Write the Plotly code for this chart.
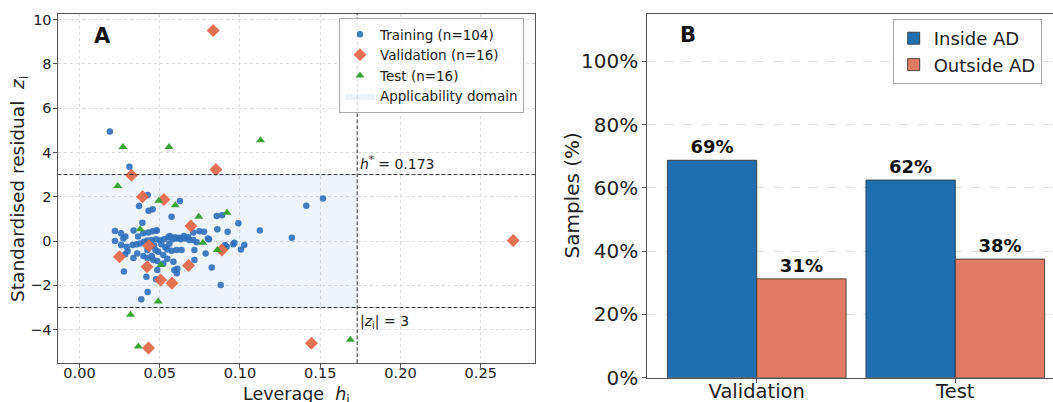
import plotly.graph_objects as go
from plotly.subplots import make_subplots

# ---------------- Panel A data ----------------
train_h = [0.0189, 0.0311, 0.0425, 0.0371, 0.0430, 0.0456, 0.0626, 0.0574, 0.0855, 0.0888,
           0.0990, 0.0392, 0.1124, 0.0221, 0.0337, 0.0859, 0.0923, 0.1323, 0.1413, 0.1517,
           0.0221, 0.0907, 0.0965, 0.1027, 0.1006, 0.0716, 0.0786, 0.0716, 0.0591, 0.0606,
           0.0824, 0.0880, 0.0277, 0.0417, 0.0425, 0.0385, 0.0336, 0.0480, 0.0800, 0.0286,
           0.0429, 0.0456, 0.0481, 0.0273, 0.0564, 0.0595, 0.0622, 0.0651, 0.0678, 0.0709,
           0.0747, 0.0776, 0.0807, 0.0259, 0.0294, 0.0331, 0.0356, 0.0377, 0.0402, 0.0423,
           0.0450, 0.0477, 0.0502, 0.0527, 0.0553, 0.0580, 0.0605, 0.0630, 0.0657, 0.0684,
           0.0709, 0.0730, 0.0360, 0.0398, 0.0423, 0.0450, 0.0473, 0.0491, 0.0522, 0.0547,
           0.0574, 0.0605, 0.0636, 0.0917, 0.0958, 0.0423, 0.0460, 0.0485, 0.0522, 0.0547,
           0.0585, 0.0610, 0.0485, 0.0477, 0.0259, 0.0300, 0.0285, 0.0365, 0.0398, 0.0440,
           0.0465, 0.0510, 0.0535, 0.0560]
train_z = [4.95, 3.35, 2.08, 1.58, 1.37, 1.43, 1.81, 1.10, 1.13, 1.16,
           0.80, 0.83, 0.47, 0.45, 0.48, 0.53, 0.42, 0.15, 1.59, 1.92,
           0.00, -0.18, -0.08, -0.18, -0.38, -0.40, -0.56, -0.86, -1.31, -1.46,
           -1.19, -1.99, -1.38, -1.61, -2.30, -2.63, -0.77, 0.47, 0.12, 0.20,
           0.38, 0.44, 0.47, 0.12, 0.23, 0.17, 0.15, 0.23, 0.17, 0.39,
           0.44, 0.42, 0.08, -0.18, -0.26, -0.18, -0.14, -0.11, -0.03, 0.02,
           0.05, 0.08, 0.02, 0.08, 0.17, 0.08, 0.12, 0.08, 0.12, 0.05,
           0.05, -0.05, -0.56, -0.68, -0.41, -0.68, -0.41, -0.48, -0.63, -0.38,
           -0.44, -0.41, -0.41, -0.26, -0.14, -0.77, -0.86, -0.90, -1.01, -0.80,
           -0.93, -1.25, -1.31, -1.73, 0.35, -0.45, -0.60, 0.20, 0.35, -0.25,
           -0.20, -0.15, -0.28, -0.12]

val_h = [0.0833, 0.0850, 0.0324, 0.0393, 0.0526, 0.0694, 0.0432, 0.0249,
         0.0421, 0.0679, 0.0887, 0.0505, 0.0576, 0.0430, 0.1445, 0.2702]
val_z = [9.50, 3.23, 2.97, 2.00, 1.88, 0.68, -0.21, -0.71,
         -1.16, -1.11, -0.41, -1.76, -1.91, -4.83, -4.61, 0.02]

test_h = [0.0271, 0.0558, 0.1128, 0.0238, 0.0494, 0.0597, 0.0919, 0.0743,
          0.0378, 0.0769, 0.0859, 0.0507, 0.0490, 0.0318, 0.0367, 0.1688]
test_z = [4.25, 4.25, 4.55, 2.48, 1.82, 1.62, 1.28, 1.10,
          0.53, -0.08, -0.41, -1.08, -2.73, -3.33, -4.76, -4.46]

H_STAR = 0.173
Z_LIM = 3

# ---------------- Panel B data ----------------
sets = ["Validation", "Test"]
inside_pct = [68.75, 62.5]
outside_pct = [31.25, 37.5]
pct_ticks = [0, 20, 40, 60, 80, 100]

# ---------------- styling ----------------
FONT = "DejaVu Sans"
TXT = "#222222"
BLUE_PT = "#2f70bd"
ORANGE_PT = "#e4694c"
GREEN_PT = "#33a02c"
BAR_BLUE = "#1f6eb0"
BAR_ORANGE = "#e27b66"

fig = make_subplots(rows=1, cols=2)

# Applicability domain rectangle (drawn first, listed last)
fig.add_trace(go.Scatter(
    x=[0, H_STAR, H_STAR, 0, 0], y=[-Z_LIM, -Z_LIM, Z_LIM, Z_LIM, -Z_LIM],
    mode="lines", fill="toself", fillcolor="rgba(70,130,210,0.09)",
    line=dict(width=0), name="Applicability domain", legendrank=4,
    legend="legend", hoverinfo="skip"), row=1, col=1)

fig.add_trace(go.Scatter(
    x=train_h, y=train_z, mode="markers", name="Training (n=104)",
    marker=dict(symbol="circle", size=6.5, color=BLUE_PT, opacity=0.9),
    legendrank=1, legend="legend"), row=1, col=1)
fig.add_trace(go.Scatter(
    x=val_h, y=val_z, mode="markers", name="Validation (n=16)",
    marker=dict(symbol="diamond", size=10, color=ORANGE_PT, opacity=0.95),
    legendrank=2, legend="legend"), row=1, col=1)
fig.add_trace(go.Scatter(
    x=test_h, y=test_z, mode="markers", name="Test (n=16)",
    marker=dict(symbol="triangle-up", size=8, color=GREEN_PT, opacity=0.95),
    legendrank=3, legend="legend"), row=1, col=1)

# Threshold lines
line_style = dict(color="#333333", width=1, dash="4px,2px")
fig.add_shape(type="line", xref="x", yref="y domain", x0=H_STAR, x1=H_STAR, y0=0, y1=1, line=line_style)
fig.add_shape(type="line", xref="x domain", yref="y", x0=0, x1=1, y0=Z_LIM, y1=Z_LIM, line=line_style)
fig.add_shape(type="line", xref="x domain", yref="y", x0=0, x1=1, y0=-Z_LIM, y1=-Z_LIM, line=line_style)

# Bars
fig.add_trace(go.Bar(
    x=sets, y=inside_pct, name="Inside AD", legend="legend2",
    marker=dict(color=BAR_BLUE, line=dict(color="rgba(50,50,50,0.85)", width=1)),
    text=[f"{v:.0f}%" for v in inside_pct], textposition="outside",
    textfont=dict(family=FONT, size=18, color="#111", weight="bold"),
    cliponaxis=False), row=1, col=2)
fig.add_trace(go.Bar(
    x=sets, y=outside_pct, name="Outside AD", legend="legend2",
    marker=dict(color=BAR_ORANGE, line=dict(color="rgba(50,50,50,0.85)", width=1)),
    text=[f"{v:.0f}%" for v in outside_pct], textposition="outside",
    textfont=dict(family=FONT, size=18, color="#111", weight="bold"),
    cliponaxis=False), row=1, col=2)

W, H = 1053, 402
def px_x(p):
    return p / W
def px_y(p):
    return 1 - p / H

axis_common = dict(showline=True, linecolor="#555555", linewidth=1, ticks="outside",
                   ticklen=4, tickcolor="#555555", zeroline=False)

fig.update_layout(
    width=W, height=H, autosize=False,
    margin=dict(l=0, r=0, t=0, b=0, autoexpand=False),
    paper_bgcolor="white", plot_bgcolor="white",
    font=dict(family=FONT, color=TXT),
    barmode="group", bargap=0.1, bargroupgap=0,
    xaxis=dict(domain=[px_x(57.5), px_x(535)], range=[-0.0137, 0.2838],
               tickvals=[0, 0.05, 0.10, 0.15, 0.20, 0.25], tickformat=".2f",
               mirror=True, showgrid=True, gridcolor="#dddddd", griddash="dot",
               tickfont=dict(size=14.5), ticklabelstandoff=-8, **axis_common),
    yaxis=dict(domain=[px_y(363.3), px_y(14)], range=[-5.52, 10.25],
               tickvals=[-4, -2, 0, 2, 4, 6, 8, 10],
               mirror=True, showgrid=True, gridcolor="#dddddd", griddash="dot",
               tickfont=dict(size=14.5), ticklabelstandoff=-2, **axis_common),
    xaxis2=dict(domain=[px_x(647.3), 1.0], range=[-0.551, 1.492],
                mirror=True, showgrid=False, tickfont=dict(size=19.5),
                ticklabelstandoff=-8, **axis_common),
    yaxis2=dict(domain=[px_y(377.7), px_y(14)], range=[0, 115],
                tickmode="array", tickvals=pct_ticks,
                ticktext=[f"{v}%" for v in pct_ticks],
                mirror=False, showgrid=True, gridcolor="#e3e3e3", griddash="dash",
                tickfont=dict(size=20), **axis_common),
    legend=dict(x=px_x(339), y=px_y(18), xanchor="left", yanchor="top",
                font=dict(size=13.5, color=TXT), bgcolor="rgba(255,255,255,0.85)",
                bordercolor="#aaaaaa", borderwidth=1, tracegroupgap=0),
    legend2=dict(x=px_x(892.7), y=px_y(19), xanchor="left", yanchor="top",
                 font=dict(size=18, color=TXT), bgcolor="rgba(255,255,255,0.85)",
                 bordercolor="#aaaaaa", borderwidth=1),
    showlegend=True,
)

ann = [
    dict(text="<b>A</b>", x=px_x(92), y=px_y(36), xref="paper", yref="paper",
         xanchor="left", yanchor="middle", showarrow=False, font=dict(size=21, color="#111")),
    dict(text="<b>B</b>", x=px_x(677.5), y=px_y(35), xref="paper", yref="paper",
         xanchor="left", yanchor="middle", showarrow=False, font=dict(size=21, color="#111")),
    dict(text="<i>h</i><sup>*</sup> = 0.173", x=H_STAR, y=Z_LIM, xref="x", yref="y",
         xanchor="left", yanchor="bottom", xshift=1, yshift=1, showarrow=False,
         font=dict(size=14, color=TXT)),
    dict(text="|<i>z</i><sub>i</sub>| = 3", x=H_STAR, y=-Z_LIM, xref="x", yref="y",
         xanchor="left", yanchor="top", xshift=1, yshift=-4, showarrow=False,
         font=dict(size=14, color=TXT)),
    dict(text="Standardised residual  <i>z</i><sub>i</sub>", x=px_x(18.3),
         y=(px_y(363.3) + px_y(14)) / 2, xref="paper", yref="paper", textangle=-90,
         xanchor="center", yanchor="middle", showarrow=False, font=dict(size=18.5, color=TXT)),
    dict(text="Leverage  <i>h</i><sub>i</sub>", x=px_x(296.3), y=px_y(395),
         xref="paper", yref="paper", xanchor="center", yanchor="middle",
         showarrow=False, font=dict(size=17.5, color=TXT)),
    dict(text="Samples (%)", x=px_x(571.7), y=(px_y(377.7) + px_y(14)) / 2,
         xref="paper", yref="paper", textangle=-90, xanchor="center", yanchor="middle",
         showarrow=False, font=dict(size=20, color=TXT)),
]
fig.update_layout(annotations=ann)

fig.write_html("out.html")
